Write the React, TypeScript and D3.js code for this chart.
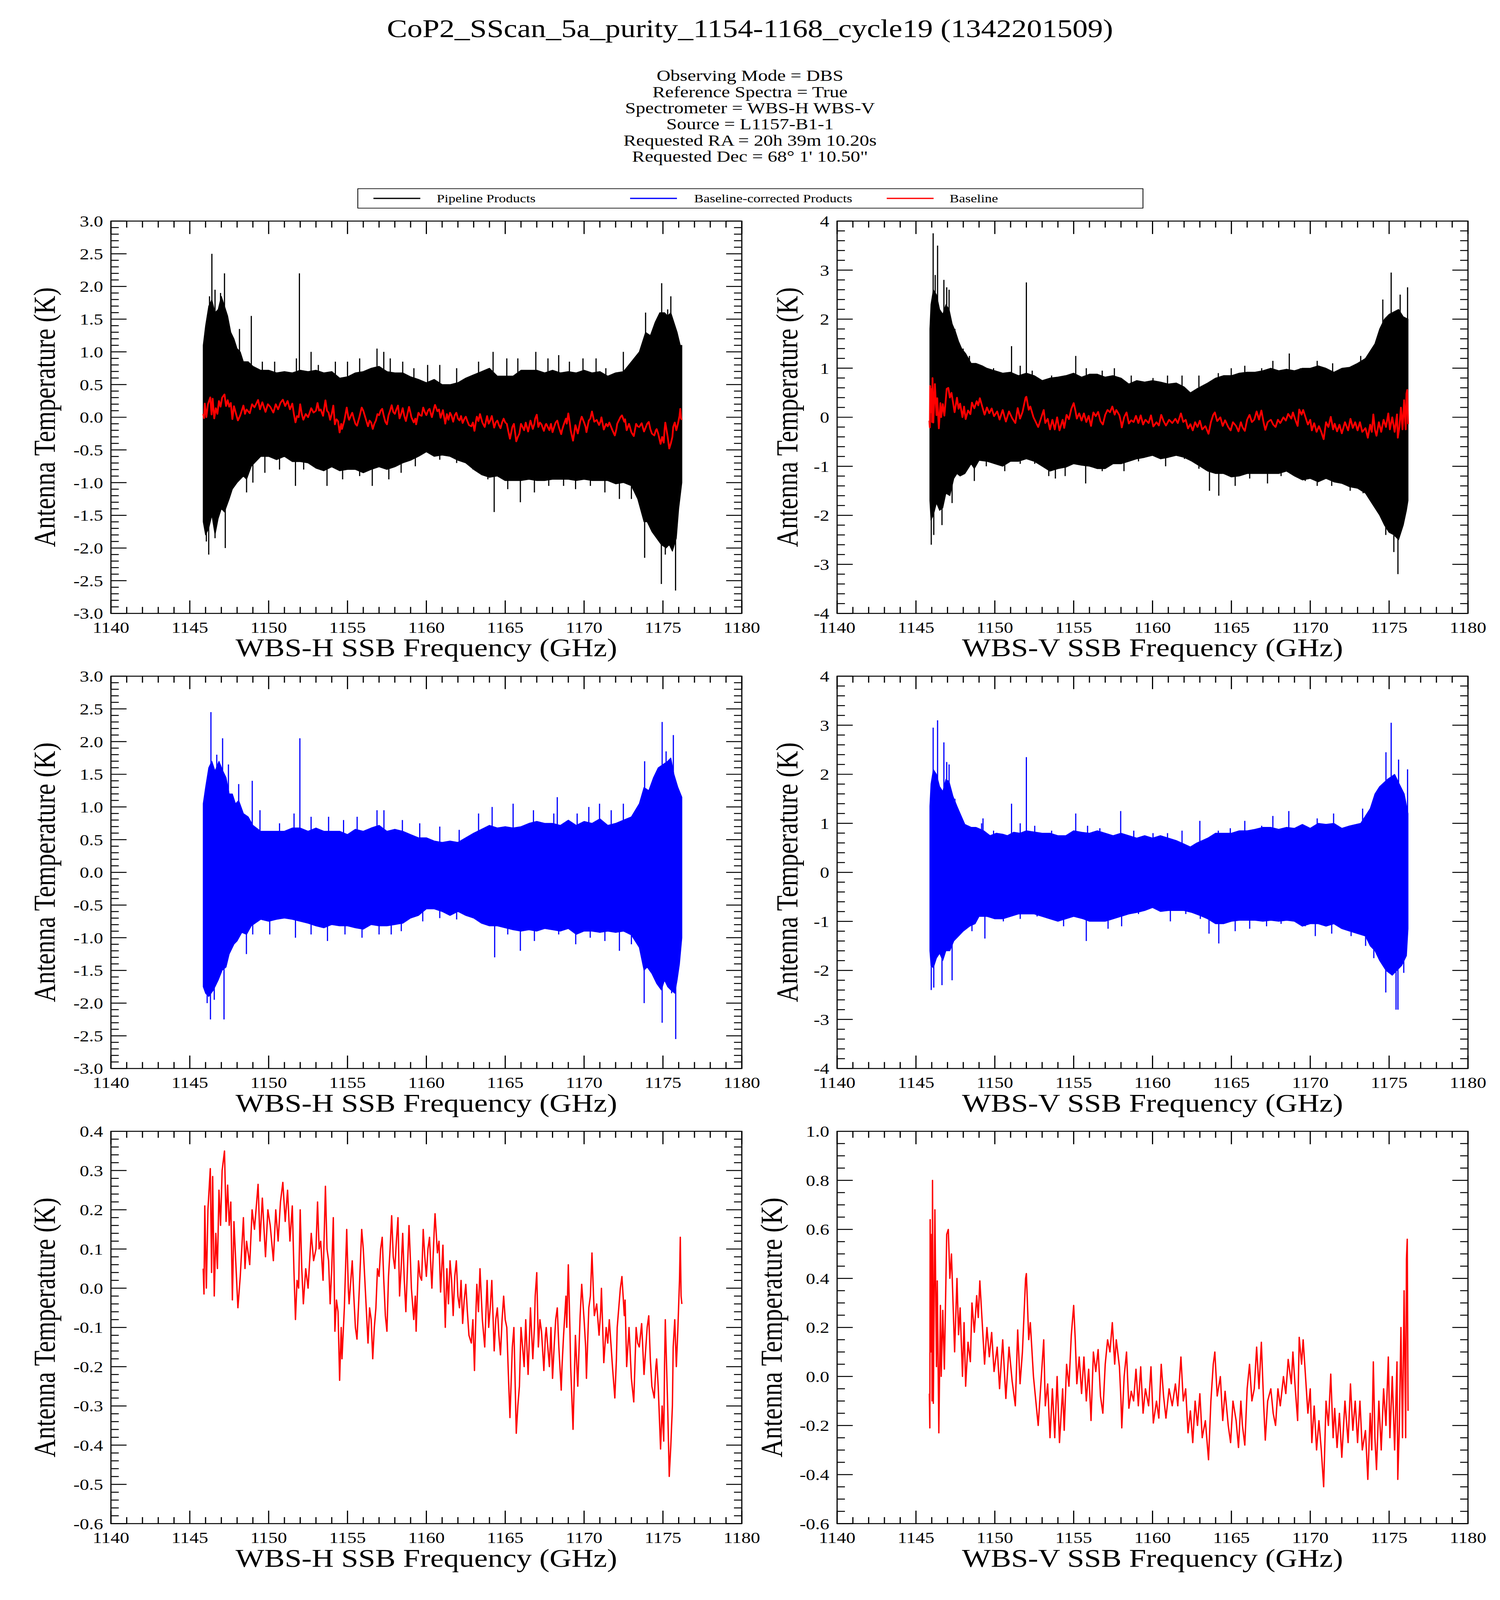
import React from 'react';
import * as d3 from 'd3';

// ---- axis ticks ----
const freqTicks = [1140, 1145, 1150, 1155, 1160, 1165, 1170, 1175, 1180];
const tempTicksH = [-3.0, -2.5, -2.0, -1.5, -1.0, -0.5, 0.0, 0.5, 1.0, 1.5, 2.0, 2.5, 3.0];
const tempTicksV = [-4, -3, -2, -1, 0, 1, 2, 3, 4];
const baseTicksH = [-0.6, -0.5, -0.4, -0.3, -0.2, -0.1, 0.0, 0.1, 0.2, 0.3, 0.4];
const baseTicksV = [-0.6, -0.4, -0.2, 0.0, 0.2, 0.4, 0.6, 0.8, 1.0];

const titleLines = [
  'Observing Mode = DBS',
  'Reference Spectra = True',
  'Spectrometer = WBS-H WBS-V',
  'Source = L1157-B1-1',
  'Requested RA = 20h 39m 10.20s',
  'Requested Dec = 68\u00b0 1\' 10.50"',
];
const legendLabels = ['Pipeline Products', 'Baseline-corrected Products', 'Baseline'];

type Pt = [number, number];

// ---- WBS-H pipeline products (noise envelope) ----
const pipeHUpper: Pt[] = [
  [1145.85, 1.1], [1146.0, 1.4], [1146.2, 1.7], [1146.4, 1.8], [1146.6, 1.6], [1146.8, 1.65], [1147.0, 1.85],
  [1147.2, 1.7], [1147.4, 1.55], [1147.6, 1.3], [1147.8, 1.2], [1148.0, 1.05], [1148.2, 1.0], [1148.4, 0.85],
  [1148.7, 0.85], [1149.0, 0.78], [1149.5, 0.72], [1150, 0.72], [1150.5, 0.68], [1151, 0.7], [1151.5, 0.68],
  [1152, 0.72], [1152.5, 0.7], [1153, 0.72], [1153.5, 0.68], [1154, 0.7], [1154.5, 0.6], [1155, 0.62],
  [1155.5, 0.68], [1156, 0.7], [1156.5, 0.75], [1157, 0.78], [1157.5, 0.7], [1158, 0.68], [1158.5, 0.68],
  [1159, 0.62], [1159.5, 0.58], [1160, 0.53], [1160.5, 0.58], [1161, 0.5], [1161.5, 0.5], [1162, 0.53],
  [1162.5, 0.6], [1163, 0.65], [1163.5, 0.7], [1164, 0.75], [1164.5, 0.63], [1165, 0.63], [1165.5, 0.63],
  [1166, 0.72], [1166.5, 0.72], [1167, 0.72], [1167.5, 0.68], [1168, 0.72], [1168.5, 0.68], [1169, 0.7],
  [1169.5, 0.68], [1170, 0.72], [1170.5, 0.68], [1171, 0.7], [1171.5, 0.63], [1172, 0.68], [1172.5, 0.7],
  [1173, 0.85], [1173.5, 1.0], [1173.9, 1.3], [1174.2, 1.25], [1174.5, 1.45], [1174.8, 1.6], [1175.1, 1.6],
  [1175.3, 1.55], [1175.5, 1.6], [1175.7, 1.45], [1175.9, 1.3], [1176.1, 1.1], [1176.2, 1.1],
];
const pipeHLower: Pt[] = [
  [1145.85, -1.6], [1146.0, -1.8], [1146.2, -1.7], [1146.4, -1.5], [1146.6, -1.8], [1146.8, -1.55], [1147.0, -1.4],
  [1147.2, -1.45], [1147.5, -1.25], [1147.7, -1.1], [1148.0, -1.0], [1148.4, -0.9], [1148.6, -0.95], [1148.9, -0.75],
  [1149.5, -0.6], [1150, -0.6], [1150.5, -0.65], [1151, -0.6], [1151.5, -0.68], [1152, -0.68], [1152.5, -0.7],
  [1153, -0.78], [1153.5, -0.82], [1154, -0.76], [1154.5, -0.82], [1155, -0.8], [1155.5, -0.8], [1156, -0.85],
  [1156.5, -0.8], [1157, -0.76], [1157.5, -0.8], [1158, -0.76], [1158.5, -0.7], [1159, -0.66], [1159.5, -0.6],
  [1160, -0.53], [1160.5, -0.6], [1161, -0.58], [1161.5, -0.6], [1162, -0.66], [1162.5, -0.7], [1163, -0.8],
  [1163.5, -0.88], [1164, -0.92], [1164.5, -0.9], [1165, -0.97], [1165.5, -0.97], [1166, -0.97], [1166.5, -0.95],
  [1167, -0.97], [1167.5, -0.97], [1168, -0.95], [1168.5, -0.95], [1169, -0.95], [1169.5, -0.97], [1170, -0.95],
  [1170.5, -0.97], [1171, -0.97], [1171.5, -0.97], [1172, -1.02], [1172.5, -1.0], [1173, -1.05], [1173.4, -1.25],
  [1173.8, -1.6], [1174.0, -1.6], [1174.3, -1.75], [1174.6, -1.85], [1174.9, -1.95], [1175.2, -2.0], [1175.4, -1.95],
  [1175.6, -2.05], [1175.85, -1.85], [1176.0, -1.4], [1176.2, -1.0],
];
const pipeHSpikes: Pt[] = [
  [1146.4, 2.5], [1146.25, 1.85], [1147.2, 2.2], [1146.95, 1.9], [1146.6, 1.95], [1148.15, 1.35], [1148.9, 1.55],
  [1149.6, 0.85], [1150.38, 0.85], [1151.76, 0.9], [1151.95, 2.2], [1152.69, 1.0], [1153.15, 0.8], [1154.23, 0.85],
  [1155.0, 0.85], [1155.77, 0.9], [1156.87, 1.05], [1157.3, 1.0], [1157.71, 0.9], [1158.5, 0.85], [1159.21, 0.75],
  [1160.08, 0.8], [1160.85, 0.8], [1161.92, 0.75], [1163.31, 0.85], [1164.23, 1.0], [1165.1, 0.9], [1165.8, 0.9],
  [1166.94, 1.0], [1167.71, 0.9], [1168.39, 0.95], [1169.07, 0.85], [1169.93, 0.9], [1170.76, 0.9], [1171.38, 0.75],
  [1172.49, 1.0], [1173.07, 0.8], [1173.9, 1.6], [1174.92, 2.05], [1175.5, 1.85], [1175.3, 1.65],
  [1146.2, -2.1], [1146.05, -1.9], [1146.6, -1.85], [1147.25, -2.0], [1148.6, -1.15], [1149.0, -1.0],
  [1149.76, -0.85], [1150.69, -0.8], [1151.7, -1.05], [1152.22, -0.8], [1153.7, -1.05], [1154.69, -0.95],
  [1155.77, -0.9], [1156.57, -1.05], [1157.62, -0.95], [1158.4, -0.85], [1159.3, -0.75], [1160.85, -0.65],
  [1161.92, -0.7], [1162.96, -0.8], [1163.9, -0.95], [1164.3, -1.45], [1165.16, -1.1], [1165.96, -1.3],
  [1166.85, -1.15], [1167.76, -1.05], [1168.7, -1.05], [1169.46, -1.1], [1170.4, -1.05], [1171.32, -1.15],
  [1172.24, -1.25], [1173.0, -1.25], [1173.84, -2.15], [1174.9, -2.55], [1175.8, -2.65], [1175.15, -2.1],
];

// ---- WBS-V pipeline products ----
const pipeVUpper: Pt[] = [
  [1145.88, 1.8], [1145.95, 2.3], [1146.1, 2.6], [1146.3, 2.5], [1146.5, 2.2], [1146.7, 2.1], [1146.9, 2.3],
  [1147.1, 2.2], [1147.3, 1.9], [1147.5, 1.75], [1147.7, 1.55], [1147.9, 1.4], [1148.15, 1.3], [1148.5, 1.1],
  [1148.8, 1.1], [1149.2, 1.05], [1149.5, 1.0], [1150, 0.95], [1150.5, 0.9], [1151, 0.92], [1151.5, 0.85],
  [1152, 0.9], [1152.5, 0.85], [1153, 0.75], [1153.5, 0.8], [1154, 0.82], [1154.5, 0.85], [1155, 0.9],
  [1155.5, 0.82], [1156, 0.88], [1156.5, 0.88], [1157, 0.82], [1157.5, 0.85], [1158, 0.8], [1158.5, 0.68],
  [1159, 0.75], [1159.5, 0.72], [1160, 0.75], [1160.5, 0.72], [1161, 0.68], [1161.5, 0.7], [1162, 0.62],
  [1162.4, 0.5], [1162.8, 0.58], [1163.5, 0.7], [1164, 0.8], [1164.5, 0.85], [1165, 0.85], [1165.5, 0.9],
  [1166, 0.92], [1166.5, 0.92], [1167, 0.95], [1167.5, 1.0], [1168, 0.95], [1168.5, 0.98], [1169, 0.95],
  [1169.5, 1.0], [1170, 1.0], [1170.5, 1.05], [1171, 1.0], [1171.5, 0.92], [1172, 1.0], [1172.5, 1.02],
  [1173, 1.1], [1173.5, 1.2], [1173.8, 1.35], [1174.1, 1.5], [1174.4, 1.8], [1174.7, 2.0], [1175.0, 2.1],
  [1175.3, 2.15], [1175.6, 2.2], [1175.9, 2.05], [1176.2, 2.0],
];
const pipeVLower: Pt[] = [
  [1145.88, -1.7], [1145.95, -2.1], [1146.1, -2.0], [1146.3, -1.75], [1146.5, -1.9], [1146.7, -1.85], [1146.9, -1.55],
  [1147.15, -1.6], [1147.4, -1.25], [1147.6, -1.15], [1147.8, -1.2], [1148.1, -1.15], [1148.5, -0.95], [1148.7, -1.05],
  [1149.0, -0.88], [1149.5, -0.9], [1150, -0.95], [1150.5, -1.0], [1151, -0.9], [1151.5, -0.9], [1152, -0.85],
  [1152.5, -0.9], [1153, -1.0], [1153.5, -1.1], [1154, -1.05], [1154.5, -1.02], [1155, -0.95], [1155.5, -0.98],
  [1156, -1.0], [1156.5, -1.05], [1157, -1.05], [1157.5, -0.95], [1158, -0.95], [1158.5, -0.9], [1159, -0.85],
  [1159.5, -0.82], [1160, -0.78], [1160.5, -0.85], [1161, -0.82], [1161.5, -0.78], [1162, -0.82], [1162.5, -0.9],
  [1163, -1.0], [1163.5, -1.1], [1164, -1.15], [1164.5, -1.15], [1165, -1.22], [1165.5, -1.2], [1166, -1.15],
  [1166.5, -1.15], [1167, -1.15], [1167.5, -1.15], [1168, -1.15], [1168.5, -1.1], [1169, -1.2], [1169.5, -1.28],
  [1170, -1.25], [1170.5, -1.32], [1171, -1.25], [1171.5, -1.32], [1172, -1.35], [1172.5, -1.42], [1173, -1.45],
  [1173.5, -1.55], [1173.8, -1.7], [1174.1, -1.85], [1174.4, -2.0], [1174.7, -2.2], [1175.0, -2.35], [1175.3, -2.4],
  [1175.6, -2.5], [1175.9, -2.2], [1176.1, -1.9], [1176.2, -1.7],
];
const pipeVSpikes: Pt[] = [
  [1146.09, 3.75], [1146.37, 3.5], [1146.22, 2.9], [1146.77, 2.8], [1146.95, 2.65], [1147.1, 2.6], [1147.47, 1.8],
  [1147.99, 1.4], [1148.39, 1.25], [1149.0, 1.0], [1149.92, 1.0], [1151.06, 1.45], [1151.61, 1.05], [1152.0, 2.75],
  [1152.37, 0.95], [1153.6, 0.85], [1155.13, 1.25], [1155.8, 1.0], [1156.81, 0.95], [1157.58, 1.0], [1158.65, 0.85],
  [1160.03, 0.8], [1160.95, 0.85], [1161.87, 0.85], [1162.94, 0.85], [1164.17, 0.9], [1164.99, 1.0], [1165.85, 1.05],
  [1166.92, 1.0], [1167.63, 1.15], [1168.67, 1.3], [1169.37, 1.0], [1170.44, 1.15], [1171.42, 1.1], [1172.13, 0.95],
  [1173.2, 1.25], [1173.81, 1.2], [1175.13, 2.95], [1174.6, 2.4], [1175.7, 2.5], [1176.17, 2.65],
  [1145.97, -2.6], [1146.13, -2.4], [1146.65, -2.2], [1147.29, -1.75], [1148.7, -1.3], [1149.46, -1.0],
  [1150.63, -1.1], [1151.61, -0.95], [1152.53, -0.95], [1153.42, -1.2], [1153.84, -1.25], [1154.46, -1.2],
  [1155.76, -1.35], [1156.81, -1.1], [1158.19, -1.1], [1159.11, -0.9], [1160.83, -1.0], [1162.02, -0.85],
  [1162.94, -1.05], [1163.61, -1.5], [1164.2, -1.6], [1165.24, -1.4], [1166.16, -1.25], [1167.29, -1.35],
  [1168.15, -1.2], [1169.68, -1.3], [1170.44, -1.4], [1171.36, -1.4], [1172.53, -1.5], [1173.35, -1.55],
  [1174.0, -1.75], [1174.79, -2.4], [1175.56, -3.2], [1175.3, -2.75], [1175.93, -2.1],
];

// ---- WBS-H baseline-corrected products ----
const corrHUpper: Pt[] = [
  [1145.85, 1.05], [1146.0, 1.3], [1146.2, 1.6], [1146.4, 1.7], [1146.6, 1.55], [1146.85, 1.7], [1147.1, 1.55],
  [1147.3, 1.45], [1147.5, 1.2], [1147.7, 1.2], [1147.9, 1.05], [1148.1, 1.1], [1148.4, 0.9], [1148.7, 0.85],
  [1149.0, 0.72], [1149.5, 0.63], [1150, 0.63], [1150.5, 0.63], [1151, 0.63], [1151.5, 0.68], [1152, 0.68],
  [1152.5, 0.63], [1153, 0.68], [1153.5, 0.63], [1154, 0.63], [1154.5, 0.63], [1155, 0.58], [1155.5, 0.66],
  [1156, 0.63], [1156.5, 0.68], [1157, 0.72], [1157.5, 0.63], [1158, 0.66], [1158.5, 0.63], [1159, 0.58],
  [1159.5, 0.53], [1160, 0.53], [1160.5, 0.48], [1161, 0.46], [1161.5, 0.48], [1162, 0.46], [1162.5, 0.53],
  [1163, 0.6], [1163.5, 0.66], [1164, 0.72], [1164.5, 0.68], [1165, 0.7], [1165.5, 0.68], [1166, 0.7],
  [1166.5, 0.75], [1167, 0.78], [1167.5, 0.75], [1168, 0.75], [1168.5, 0.72], [1169, 0.8], [1169.5, 0.72],
  [1170, 0.78], [1170.5, 0.75], [1171, 0.82], [1171.5, 0.72], [1172, 0.75], [1172.5, 0.8], [1173, 0.85],
  [1173.5, 1.05], [1173.8, 1.3], [1174.1, 1.25], [1174.4, 1.45], [1174.7, 1.6], [1175.0, 1.65], [1175.3, 1.7],
  [1175.5, 1.75], [1175.7, 1.5], [1175.95, 1.3], [1176.2, 1.15],
];
const corrHLower: Pt[] = [
  [1145.85, -1.75], [1146.0, -1.85], [1146.2, -1.9], [1146.5, -1.8], [1146.8, -1.65], [1147.05, -1.5], [1147.3, -1.45],
  [1147.5, -1.25], [1147.8, -1.1], [1148.0, -1.05], [1148.3, -0.92], [1148.6, -0.95], [1148.9, -0.82], [1149.5, -0.72],
  [1150, -0.75], [1150.5, -0.72], [1151, -0.7], [1151.5, -0.72], [1152, -0.75], [1152.5, -0.78], [1153, -0.82],
  [1153.5, -0.85], [1154, -0.8], [1154.5, -0.82], [1155, -0.82], [1155.5, -0.85], [1156, -0.87], [1156.5, -0.8],
  [1157, -0.82], [1157.5, -0.82], [1158, -0.8], [1158.5, -0.78], [1159, -0.7], [1159.5, -0.66], [1160, -0.56],
  [1160.5, -0.56], [1161, -0.6], [1161.5, -0.66], [1162, -0.6], [1162.5, -0.66], [1163, -0.7], [1163.5, -0.78],
  [1164, -0.82], [1164.5, -0.82], [1165, -0.85], [1165.5, -0.88], [1166, -0.9], [1166.5, -0.88], [1167, -0.9],
  [1167.5, -0.86], [1168, -0.88], [1168.5, -0.9], [1169, -0.86], [1169.5, -0.95], [1170, -0.9], [1170.5, -0.9],
  [1171, -0.92], [1171.5, -0.9], [1172, -0.92], [1172.5, -0.9], [1173, -0.96], [1173.5, -1.15], [1173.8, -1.5],
  [1174.0, -1.45], [1174.3, -1.55], [1174.6, -1.7], [1174.9, -1.8], [1175.1, -1.65], [1175.3, -1.75], [1175.5, -1.8],
  [1175.75, -1.85], [1175.9, -1.65], [1176.05, -1.4], [1176.2, -1.0],
];
const corrHSpikes: Pt[] = [
  [1146.34, 2.45], [1147.08, 2.05], [1146.71, 1.8], [1147.45, 1.65], [1148.1, 1.35], [1148.96, 1.4],
  [1149.45, 0.95], [1150.69, 0.75], [1151.61, 0.9], [1151.98, 2.05], [1152.69, 0.85], [1153.8, 0.85],
  [1154.75, 0.8], [1155.61, 0.85], [1156.87, 0.95], [1157.31, 0.95], [1158.48, 0.8], [1159.58, 0.75],
  [1160.85, 0.7], [1162.08, 0.65], [1163.31, 0.9], [1164.17, 1.0], [1165.5, 1.05], [1166.79, 0.95],
  [1168.08, 0.9], [1168.3, 1.15], [1169.56, 0.9], [1170.3, 1.0], [1170.98, 1.05], [1171.72, 0.95],
  [1172.49, 1.05], [1173.16, 0.9], [1173.84, 1.7], [1174.95, 2.3], [1175.66, 2.1], [1175.2, 1.85],
  [1146.1, -2.0], [1146.31, -2.25], [1147.17, -2.25], [1146.55, -1.95], [1148.59, -1.25], [1148.99, -0.95],
  [1150.07, -0.95], [1151.7, -1.0], [1152.69, -0.95], [1153.73, -1.05], [1154.84, -0.95], [1155.92, -1.0],
  [1157.0, -0.95], [1157.77, -0.95], [1158.41, -0.9], [1159.77, -0.75], [1160.85, -0.7], [1161.92, -0.72],
  [1163.86, -0.8], [1164.33, -1.3], [1165.16, -0.95], [1165.96, -1.2], [1166.85, -1.05], [1168.39, -0.95],
  [1169.47, -1.1], [1170.39, -1.0], [1171.32, -1.05], [1172.24, -1.2], [1173.0, -1.1], [1173.81, -2.0],
  [1174.95, -2.3], [1175.81, -2.55], [1175.55, -1.85],
];

// ---- WBS-V baseline-corrected products ----
const corrVUpper: Pt[] = [
  [1145.88, 1.35], [1145.95, 1.8], [1146.1, 2.1], [1146.3, 2.0], [1146.5, 1.75], [1146.7, 1.65], [1146.9, 1.9],
  [1147.1, 1.85], [1147.35, 1.55], [1147.6, 1.35], [1147.8, 1.2], [1148.1, 0.98], [1148.5, 0.92], [1148.8, 0.92],
  [1149.3, 0.85], [1149.7, 0.75], [1150.1, 0.8], [1150.5, 0.78], [1150.8, 0.75], [1151.2, 0.82], [1151.6, 0.8],
  [1152, 0.85], [1152.6, 0.82], [1153, 0.8], [1153.5, 0.8], [1154, 0.75], [1154.5, 0.75], [1155, 0.85],
  [1155.5, 0.82], [1156, 0.8], [1156.5, 0.85], [1157, 0.8], [1157.5, 0.75], [1158, 0.8], [1158.5, 0.75],
  [1159, 0.7], [1159.5, 0.75], [1160, 0.7], [1160.5, 0.75], [1161, 0.7], [1161.5, 0.65], [1162, 0.58],
  [1162.4, 0.52], [1162.8, 0.6], [1163.5, 0.7], [1164, 0.8], [1164.5, 0.8], [1165, 0.8], [1165.5, 0.85],
  [1166, 0.85], [1166.5, 0.88], [1167, 0.92], [1167.5, 0.92], [1168, 0.88], [1168.5, 0.92], [1169, 0.9],
  [1169.5, 0.98], [1170, 0.9], [1170.5, 1.0], [1171, 0.98], [1171.5, 1.0], [1172, 0.9], [1172.5, 0.95],
  [1173.2, 1.0], [1173.8, 1.3], [1174.1, 1.6], [1174.4, 1.75], [1174.9, 1.9], [1175.35, 2.0], [1175.65, 1.8],
  [1175.96, 1.6], [1176.2, 1.2],
];
const corrVLower: Pt[] = [
  [1145.88, -1.6], [1145.95, -1.9], [1146.1, -1.95], [1146.3, -1.75], [1146.5, -1.65], [1146.7, -1.8], [1146.9, -1.6],
  [1147.15, -1.6], [1147.4, -1.4], [1147.7, -1.3], [1148.0, -1.2], [1148.4, -1.1], [1148.75, -1.05], [1149.0, -0.9],
  [1149.5, -0.9], [1150, -0.95], [1150.5, -0.95], [1151, -0.9], [1151.5, -0.85], [1152, -0.85], [1152.5, -0.85],
  [1153, -0.9], [1153.5, -0.95], [1154, -1.0], [1154.5, -0.95], [1155, -0.9], [1155.6, -0.95], [1156, -1.0],
  [1156.5, -1.0], [1157, -1.0], [1157.5, -0.95], [1158, -0.9], [1158.5, -0.85], [1159, -0.82], [1159.5, -0.78],
  [1160, -0.72], [1160.5, -0.8], [1161, -0.78], [1161.5, -0.78], [1162, -0.78], [1162.5, -0.82], [1163, -0.88],
  [1163.5, -0.95], [1164, -1.05], [1164.5, -1.05], [1165, -1.0], [1165.5, -0.98], [1166, -0.98], [1166.5, -0.98],
  [1167, -1.0], [1167.5, -0.98], [1168, -1.0], [1168.5, -0.98], [1169, -1.0], [1169.5, -1.1], [1170, -1.05],
  [1170.5, -1.05], [1171, -1.1], [1171.5, -1.05], [1172, -1.15], [1172.5, -1.2], [1173, -1.25], [1173.5, -1.3],
  [1173.8, -1.5], [1174.1, -1.6], [1174.4, -1.8], [1174.8, -2.0], [1175.2, -2.1], [1175.5, -2.0], [1175.8, -1.9],
  [1176.1, -1.7], [1176.2, -1.15],
];
const corrVSpikes: Pt[] = [
  [1146.09, 2.95], [1146.37, 3.1], [1146.77, 2.65], [1146.95, 2.25], [1147.1, 2.2], [1147.47, 1.5], [1148.33, 0.95],
  [1149.16, 1.0], [1149.25, 1.1], [1149.92, 0.85], [1151.06, 1.4], [1151.61, 1.0], [1152.0, 2.35], [1152.53, 0.95],
  [1153.6, 0.85], [1155.13, 1.2], [1155.88, 0.95], [1156.66, 0.9], [1157.98, 1.25], [1158.81, 0.85], [1160.03, 0.8],
  [1160.95, 0.8], [1161.87, 0.85], [1163.0, 1.05], [1164.17, 0.85], [1164.93, 0.9], [1165.85, 1.05], [1166.92, 0.95],
  [1167.63, 1.15], [1168.64, 1.25], [1169.53, 0.95], [1170.44, 1.1], [1171.48, 1.2], [1172.13, 0.9], [1173.32, 1.3],
  [1175.13, 3.05], [1174.8, 2.45], [1175.6, 2.3], [1176.17, 2.1],
  [1145.97, -2.4], [1146.13, -2.35], [1146.65, -2.3], [1147.29, -2.2], [1148.55, -1.2], [1149.37, -1.35],
  [1150.54, -1.0], [1151.61, -0.95], [1152.68, -0.9], [1154.36, -1.1], [1155.8, -1.4], [1157.18, -1.15],
  [1158.04, -1.1], [1159.11, -0.85], [1161.13, -1.0], [1162.11, -0.85], [1163.03, -0.95], [1163.58, -1.25],
  [1164.2, -1.45], [1165.24, -1.2], [1166.16, -1.15], [1167.23, -1.1], [1168.15, -1.05], [1169.68, -1.1],
  [1170.32, -1.3], [1171.36, -1.25], [1172.59, -1.3], [1173.51, -1.5], [1174.03, -1.75], [1174.79, -2.45],
  [1175.44, -2.8], [1175.56, -2.8], [1175.93, -2.05],
];

// ---- fitted baselines ----
const baselineH: Pt[] = [
  [1145.85, 0.05], [1145.9, -0.015], [1145.95, 0.21], [1146.05, 0.0], [1146.15, 0.2], [1146.3, 0.305], [1146.38, 0.04],
  [1146.45, 0.285], [1146.55, -0.02], [1146.65, 0.14], [1146.75, 0.05], [1146.85, 0.25], [1146.95, 0.16], [1147.05, 0.3],
  [1147.2, 0.35], [1147.3, 0.17], [1147.4, 0.263], [1147.5, 0.16], [1147.6, 0.22], [1147.7, -0.03], [1147.8, 0.17],
  [1147.9, 0.08], [1148.05, -0.05], [1148.2, 0.03], [1148.4, 0.18], [1148.5, 0.05], [1148.6, 0.12], [1148.8, 0.06],
  [1148.95, 0.2], [1149.1, 0.15], [1149.33, 0.265], [1149.45, 0.12], [1149.6, 0.23], [1149.8, 0.08], [1149.95, 0.2],
  [1150.1, 0.16], [1150.3, 0.07], [1150.45, 0.2], [1150.6, 0.12], [1150.75, 0.22], [1150.9, 0.27], [1151.05, 0.17],
  [1151.2, 0.25], [1151.35, 0.12], [1151.5, 0.21], [1151.6, 0.05], [1151.7, -0.08], [1151.8, 0.02], [1151.9, 0.0],
  [1152.0, 0.2], [1152.1, 0.05], [1152.2, -0.04], [1152.35, 0.05], [1152.5, 0.0], [1152.7, 0.14], [1152.85, 0.07],
  [1153.0, 0.1], [1153.1, 0.22], [1153.2, 0.1], [1153.3, 0.12], [1153.45, 0.02], [1153.6, 0.26], [1153.7, 0.1],
  [1153.8, 0.07], [1153.9, -0.04], [1154.0, 0.05], [1154.1, 0.18], [1154.2, -0.11], [1154.3, -0.03], [1154.4, -0.06],
  [1154.5, -0.235], [1154.6, -0.1], [1154.65, -0.18], [1154.8, -0.05], [1154.95, 0.15], [1155.05, 0.0], [1155.1, -0.04],
  [1155.3, 0.07], [1155.4, -0.02], [1155.5, -0.1], [1155.6, -0.13], [1155.75, 0.0], [1155.9, 0.15], [1156.0, 0.1],
  [1156.1, 0.02], [1156.2, -0.06], [1156.3, -0.14], [1156.4, -0.05], [1156.5, -0.08], [1156.6, -0.18], [1156.7, -0.1],
  [1156.8, -0.05], [1156.9, 0.05], [1157.0, 0.03], [1157.1, 0.1], [1157.2, 0.13], [1157.3, 0.02], [1157.4, -0.07],
  [1157.5, -0.11], [1157.6, 0.03], [1157.7, 0.1], [1157.8, 0.185], [1157.9, 0.08], [1158.0, 0.05], [1158.1, 0.12],
  [1158.2, 0.18], [1158.3, -0.02], [1158.4, 0.05], [1158.5, 0.14], [1158.6, 0.02], [1158.7, -0.06], [1158.8, 0.05],
  [1158.9, 0.16], [1159.0, 0.06], [1159.05, 0.0], [1159.2, -0.08], [1159.3, -0.02], [1159.35, -0.11], [1159.5, 0.07],
  [1159.6, 0.03], [1159.7, 0.02], [1159.8, 0.15], [1159.9, 0.08], [1160.0, 0.03], [1160.1, 0.1], [1160.2, 0.13],
  [1160.3, 0.04], [1160.35, 0.0], [1160.5, 0.15], [1160.55, 0.19], [1160.7, 0.09], [1160.8, 0.12], [1160.9, -0.01],
  [1161.05, 0.11], [1161.2, -0.1], [1161.3, 0.05], [1161.4, -0.04], [1161.5, 0.07], [1161.6, 0.02], [1161.7, -0.07],
  [1161.8, 0.03], [1161.9, 0.07], [1162.0, -0.02], [1162.1, -0.05], [1162.2, 0.02], [1162.3, -0.09], [1162.4, -0.03],
  [1162.5, 0.01], [1162.6, -0.06], [1162.7, -0.12], [1162.85, -0.14], [1162.95, -0.08], [1163.05, -0.21], [1163.15, -0.05],
  [1163.2, 0.01], [1163.3, -0.06], [1163.4, 0.05], [1163.55, -0.08], [1163.7, -0.15], [1163.85, 0.02], [1163.95, -0.1],
  [1164.05, -0.05], [1164.15, 0.02], [1164.3, -0.16], [1164.4, -0.08], [1164.5, -0.05], [1164.6, -0.12], [1164.7, -0.17],
  [1164.8, -0.08], [1164.9, -0.02], [1165.0, -0.08], [1165.1, -0.1], [1165.2, -0.22], [1165.3, -0.33], [1165.45, -0.15],
  [1165.55, -0.1], [1165.7, -0.37], [1165.8, -0.3], [1165.9, -0.25], [1166.0, -0.1], [1166.1, -0.15], [1166.2, -0.2],
  [1166.3, -0.08], [1166.45, -0.22], [1166.6, -0.05], [1166.75, -0.18], [1166.85, -0.1], [1166.9, -0.02], [1167.0, 0.04],
  [1167.1, -0.15], [1167.2, -0.08], [1167.3, -0.11], [1167.45, -0.21], [1167.55, -0.12], [1167.6, -0.1], [1167.7, -0.15],
  [1167.8, -0.2], [1167.9, -0.1], [1168.0, -0.23], [1168.1, -0.15], [1168.2, -0.08], [1168.3, -0.05], [1168.4, -0.15],
  [1168.55, -0.26], [1168.6, -0.2], [1168.7, -0.12], [1168.85, -0.02], [1168.9, -0.1], [1169.0, 0.06], [1169.1, -0.1],
  [1169.15, -0.2], [1169.3, -0.36], [1169.4, -0.2], [1169.45, -0.12], [1169.6, -0.25], [1169.75, -0.07], [1169.85, 0.01],
  [1170.0, -0.08], [1170.1, -0.15], [1170.15, -0.23], [1170.3, -0.05], [1170.4, -0.02], [1170.5, 0.09], [1170.6, -0.02],
  [1170.65, -0.07], [1170.8, -0.04], [1170.95, -0.12], [1171.05, -0.06], [1171.1, 0.0], [1171.25, -0.19], [1171.4, -0.1],
  [1171.5, -0.14], [1171.6, -0.08], [1171.8, -0.2], [1171.95, -0.28], [1172.05, -0.18], [1172.1, -0.1], [1172.3, 0.0],
  [1172.4, 0.03], [1172.55, -0.07], [1172.6, -0.03], [1172.7, -0.2], [1172.85, -0.1], [1173.0, -0.23], [1173.15, -0.29],
  [1173.3, -0.1], [1173.4, -0.14], [1173.5, -0.15], [1173.65, -0.09], [1173.8, -0.22], [1173.9, -0.16], [1174.0, -0.1],
  [1174.1, -0.07], [1174.2, -0.18], [1174.3, -0.25], [1174.45, -0.28], [1174.55, -0.2], [1174.6, -0.18], [1174.7, -0.25],
  [1174.85, -0.41], [1174.95, -0.3], [1175.05, -0.39], [1175.1, -0.2], [1175.15, -0.08], [1175.3, -0.3], [1175.4, -0.48],
  [1175.5, -0.4], [1175.6, -0.3], [1175.65, -0.15], [1175.75, -0.08], [1175.85, -0.2], [1175.95, -0.1], [1176.05, 0.02],
  [1176.1, 0.13], [1176.15, -0.02], [1176.2, -0.04],
];
const baselineV: Pt[] = [
  [1145.85, -0.07], [1145.88, -0.21], [1145.9, 0.64], [1145.95, 0.1], [1146.0, 0.58], [1146.02, -0.1], [1146.05, 0.8],
  [1146.1, -0.11], [1146.2, 0.68], [1146.3, 0.04], [1146.35, 0.39], [1146.45, -0.23], [1146.55, 0.29], [1146.6, 0.0],
  [1146.7, 0.27], [1146.8, 0.03], [1146.95, 0.58], [1147.05, 0.6], [1147.15, 0.4], [1147.25, 0.5], [1147.35, 0.3],
  [1147.45, 0.1], [1147.6, 0.4], [1147.7, 0.17], [1147.8, 0.28], [1147.95, 0.0], [1148.05, 0.22], [1148.15, -0.04],
  [1148.3, 0.14], [1148.45, 0.06], [1148.55, 0.3], [1148.7, 0.18], [1148.85, 0.33], [1148.95, 0.24], [1149.05, 0.39],
  [1149.2, 0.22], [1149.35, 0.05], [1149.5, 0.2], [1149.65, 0.08], [1149.8, 0.18], [1149.95, 0.02], [1150.15, 0.12],
  [1150.3, -0.05], [1150.5, 0.15], [1150.7, -0.09], [1150.9, 0.12], [1151.1, -0.02], [1151.3, -0.12], [1151.45, 0.19],
  [1151.6, -0.03], [1151.75, 0.1], [1151.95, 0.4], [1152.0, 0.42], [1152.15, 0.15], [1152.25, 0.22], [1152.45, 0.0],
  [1152.6, -0.1], [1152.75, -0.2], [1152.95, 0.0], [1153.1, 0.15], [1153.2, -0.12], [1153.35, -0.03], [1153.5, -0.25],
  [1153.65, -0.05], [1153.8, -0.25], [1153.95, 0.0], [1154.1, -0.27], [1154.3, -0.05], [1154.4, -0.22], [1154.55, 0.05],
  [1154.7, -0.04], [1154.85, 0.17], [1155.0, 0.29], [1155.1, 0.15], [1155.2, -0.03], [1155.35, 0.08], [1155.5, -0.07],
  [1155.65, 0.08], [1155.8, -0.1], [1155.95, 0.03], [1156.1, -0.18], [1156.25, 0.1], [1156.4, 0.02], [1156.55, 0.11],
  [1156.7, -0.08], [1156.85, -0.15], [1157.0, 0.05], [1157.15, 0.15], [1157.3, 0.1], [1157.45, 0.22], [1157.6, 0.05],
  [1157.7, 0.15], [1157.9, 0.04], [1158.0, -0.1], [1158.05, -0.21], [1158.2, 0.0], [1158.35, 0.1], [1158.5, -0.13],
  [1158.65, -0.06], [1158.8, -0.1], [1158.95, 0.03], [1159.1, -0.12], [1159.25, 0.04], [1159.4, -0.15], [1159.55, -0.05],
  [1159.75, -0.12], [1159.9, 0.04], [1160.05, -0.19], [1160.25, -0.1], [1160.4, -0.17], [1160.55, 0.05], [1160.7, -0.08],
  [1160.85, -0.17], [1161.05, -0.05], [1161.25, -0.12], [1161.45, -0.03], [1161.6, -0.12], [1161.8, 0.08], [1161.95, -0.1],
  [1162.1, -0.05], [1162.25, -0.23], [1162.4, -0.14], [1162.55, -0.27], [1162.7, -0.1], [1162.85, -0.2], [1163.0, -0.07],
  [1163.15, -0.25], [1163.35, -0.18], [1163.55, -0.34], [1163.7, -0.1], [1163.85, 0.05], [1163.95, 0.1], [1164.1, -0.08],
  [1164.3, 0.0], [1164.45, -0.18], [1164.6, -0.06], [1164.8, -0.2], [1164.95, -0.27], [1165.1, -0.1], [1165.3, -0.18],
  [1165.45, -0.29], [1165.6, -0.1], [1165.7, -0.2], [1165.85, -0.28], [1166.0, -0.05], [1166.15, 0.05], [1166.3, -0.1],
  [1166.45, -0.05], [1166.6, 0.12], [1166.75, -0.05], [1166.9, 0.14], [1167.05, -0.12], [1167.15, -0.26], [1167.3, -0.1],
  [1167.5, -0.05], [1167.65, -0.15], [1167.8, -0.2], [1167.95, -0.05], [1168.1, -0.12], [1168.3, 0.0], [1168.45, -0.07],
  [1168.6, 0.07], [1168.8, -0.03], [1168.9, 0.1], [1169.05, -0.05], [1169.2, -0.18], [1169.3, 0.16], [1169.45, 0.05],
  [1169.55, 0.15], [1169.7, 0.0], [1169.85, -0.15], [1170.0, -0.05], [1170.1, -0.27], [1170.25, -0.12], [1170.4, -0.3],
  [1170.55, -0.18], [1170.7, -0.3], [1170.85, -0.45], [1171.0, -0.1], [1171.15, -0.2], [1171.3, 0.01], [1171.45, -0.25],
  [1171.55, -0.13], [1171.7, -0.29], [1171.85, -0.15], [1172.0, -0.33], [1172.2, -0.1], [1172.4, -0.27], [1172.55, -0.03],
  [1172.7, -0.22], [1172.85, -0.1], [1173.0, -0.27], [1173.15, -0.1], [1173.3, -0.3], [1173.5, -0.22], [1173.65, -0.42],
  [1173.8, -0.15], [1173.9, -0.3], [1174.0, 0.06], [1174.1, -0.25], [1174.2, -0.38], [1174.35, -0.1], [1174.5, -0.3],
  [1174.65, -0.05], [1174.8, -0.2], [1174.95, 0.08], [1175.05, -0.25], [1175.2, 0.0], [1175.35, -0.3], [1175.5, 0.06],
  [1175.55, -0.42], [1175.65, -0.2], [1175.75, 0.2], [1175.85, -0.25], [1175.95, 0.35], [1176.05, -0.25], [1176.1, 0.48],
  [1176.15, 0.56], [1176.2, -0.14],
];

const FONT = "'Liberation Serif', 'Times New Roman', Times, serif";
const W = 3840;
const H = 4943;
const colX = [284, 2143];
const rowY = [683, 2089, 3495];
const PW = 1615;
const PH = 1212;

type PanelProps = {
  x0: number;
  y0: number;
  yTicks: number[];
  minorStep: number;
  fmt: (v: number) => string;
  xTitle: string;
  yTitleGap: number;
  upper?: Pt[];
  lower?: Pt[];
  spikes?: Pt[];
  noiseColor?: string;
  baseline?: Pt[];
  baseWidth?: number;
};

function Panel(p: PanelProps) {
  const yMin = p.yTicks[0];
  const yMax = p.yTicks[p.yTicks.length - 1];
  const x = d3.scaleLinear().domain([1140, 1180]).range([0, PW]);
  const y = d3.scaleLinear().domain([yMin, yMax]).range([PH, 0]);
  const line = d3.line<Pt>().x(d => x(d[0])).y(d => y(d[1]));

  const xMinor = d3.range(1140, 1181, 1).filter(v => !freqTicks.includes(v));
  const nMinor = Math.round((yMax - yMin) / p.minorStep);
  const yMinor = d3.range(nMinor + 1).map(i => yMin + i * p.minorStep)
    .filter(v => !p.yTicks.some(t => Math.abs(t - v) < 1e-6));

  let noisePath = '';
  if (p.upper && p.lower) {
    const pts: Pt[] = [...p.upper, ...[...p.lower].reverse()];
    noisePath = (line(pts) || '') + 'Z';
  }
  const major = 40;
  const minor = 20;
  const sw = 3;

  return (
    <g transform={`translate(${p.x0},${p.y0})`}>
      {noisePath && (
        <path d={noisePath} fill={p.noiseColor} stroke={p.noiseColor} strokeWidth={2} strokeLinejoin="round" />
      )}
      {p.spikes && p.spikes.map((s, i) => (
        <line key={i} x1={x(s[0])} x2={x(s[0])} y1={y(0)} y2={y(s[1])} stroke={p.noiseColor} strokeWidth={3} />
      ))}
      {p.baseline && (
        <path d={line(p.baseline) || ''} fill="none" stroke="#ff0000" strokeWidth={p.baseWidth || 3}
          strokeLinejoin="round" />
      )}
      <rect x={0} y={0} width={PW} height={PH} fill="none" stroke="#000" strokeWidth={sw} />
      {freqTicks.map(v => (
        <g key={'xm' + v}>
          <line x1={x(v)} x2={x(v)} y1={PH} y2={PH - major} stroke="#000" strokeWidth={sw} />
          <line x1={x(v)} x2={x(v)} y1={0} y2={major} stroke="#000" strokeWidth={sw} />
          <text x={x(v)} y={PH + 60} fontSize={48} textAnchor="middle" fontFamily={FONT}>{v}</text>
        </g>
      ))}
      {xMinor.map(v => (
        <g key={'xn' + v}>
          <line x1={x(v)} x2={x(v)} y1={PH} y2={PH - minor} stroke="#000" strokeWidth={sw} />
          <line x1={x(v)} x2={x(v)} y1={0} y2={minor} stroke="#000" strokeWidth={sw} />
        </g>
      ))}
      {p.yTicks.map(v => (
        <g key={'ym' + v}>
          <line x1={0} x2={major} y1={y(v)} y2={y(v)} stroke="#000" strokeWidth={sw} />
          <line x1={PW} x2={PW - major} y1={y(v)} y2={y(v)} stroke="#000" strokeWidth={sw} />
          <text x={-20} y={y(v) + 17} fontSize={48} textAnchor="end" fontFamily={FONT}>{p.fmt(v)}</text>
        </g>
      ))}
      {yMinor.map((v, i) => (
        <g key={'yn' + i}>
          <line x1={0} x2={minor} y1={y(v)} y2={y(v)} stroke="#000" strokeWidth={sw} />
          <line x1={PW} x2={PW - minor} y1={y(v)} y2={y(v)} stroke="#000" strokeWidth={sw} />
        </g>
      ))}
      <text x={PW / 2} y={PH + 133} fontSize={78} textAnchor="middle" fontFamily={FONT}>{p.xTitle}</text>
      <text
        transform={`translate(${-p.yTitleGap},${PH / 2}) rotate(-90)`}
        fontSize={78}
        textAnchor="middle"
        fontFamily={FONT}
      >
        Antenna Temperature (K)
      </text>
    </g>
  );
}

const fmt1 = (v: number) => (Math.abs(v) < 1e-9 ? '0.0' : v.toFixed(1));
const fmt0 = (v: number) => String(v);

export default function App() {
  const legendColors = ['#000000', '#0000ff', '#ff0000'];
  const legendLineX = [956, 1613, 2270];
  const legendTextX = [1118, 1777, 2431];
  const xH = 'WBS-H SSB Frequency (GHz)';
  const xV = 'WBS-V SSB Frequency (GHz)';
  // the browser window may be shorter than the figure: fit the whole figure into it
  const viewH = typeof window !== 'undefined' && window.innerHeight > 0 ? Math.min(window.innerHeight, H) : H;

  return (
    <div style={{ margin: -8, background: '#fff', width: W, height: viewH, overflow: 'hidden' }}>
      <svg width={W} height={viewH} viewBox={`0 0 ${W} ${H}`} preserveAspectRatio="none" style={{ display: 'block' }}>
        <rect width={W} height={H} fill="#fff" />
        <text x={1920} y={115} fontSize={78} textAnchor="middle" fontFamily={FONT}>
          CoP2_SScan_5a_purity_1154-1168_cycle19 (1342201509)
        </text>
        {titleLines.map((t, i) => (
          <text key={i} x={1920} y={250 + i * 50} fontSize={49} textAnchor="middle" fontFamily={FONT}>{t}</text>
        ))}
        <rect x={916} y={583} width={2010} height={60} fill="none" stroke="#000" strokeWidth={2} />
        {legendLabels.map((l, i) => (
          <g key={l}>
            <line x1={legendLineX[i]} x2={legendLineX[i] + 120} y1={613} y2={613} stroke={legendColors[i]} strokeWidth={4} />
            <text x={legendTextX[i]} y={625} fontSize={36} fontFamily={FONT}>{l}</text>
          </g>
        ))}

        <Panel x0={colX[0]} y0={rowY[0]} yTicks={tempTicksH} minorStep={0.1} fmt={fmt1} xTitle={xH} yTitleGap={144}
          upper={pipeHUpper} lower={pipeHLower} spikes={pipeHSpikes} noiseColor="#000000" baseline={baselineH}
          baseWidth={4.5} />
        <Panel x0={colX[1]} y0={rowY[0]} yTicks={tempTicksV} minorStep={0.2} fmt={fmt0} xTitle={xV} yTitleGap={102}
          upper={pipeVUpper} lower={pipeVLower} spikes={pipeVSpikes} noiseColor="#000000" baseline={baselineV}
          baseWidth={4.5} />
        <Panel x0={colX[0]} y0={rowY[1]} yTicks={tempTicksH} minorStep={0.1} fmt={fmt1} xTitle={xH} yTitleGap={144}
          upper={corrHUpper} lower={corrHLower} spikes={corrHSpikes} noiseColor="#0000ff" />
        <Panel x0={colX[1]} y0={rowY[1]} yTicks={tempTicksV} minorStep={0.2} fmt={fmt0} xTitle={xV} yTitleGap={102}
          upper={corrVUpper} lower={corrVLower} spikes={corrVSpikes} noiseColor="#0000ff" />
        <Panel x0={colX[0]} y0={rowY[2]} yTicks={baseTicksH} minorStep={0.02} fmt={fmt1} xTitle={xH} yTitleGap={144}
          baseline={baselineH} baseWidth={3.5} />
        <Panel x0={colX[1]} y0={rowY[2]} yTicks={baseTicksV} minorStep={0.05} fmt={fmt1} xTitle={xV} yTitleGap={142}
          baseline={baselineV} baseWidth={3.5} />
      </svg>
    </div>
  );
}
